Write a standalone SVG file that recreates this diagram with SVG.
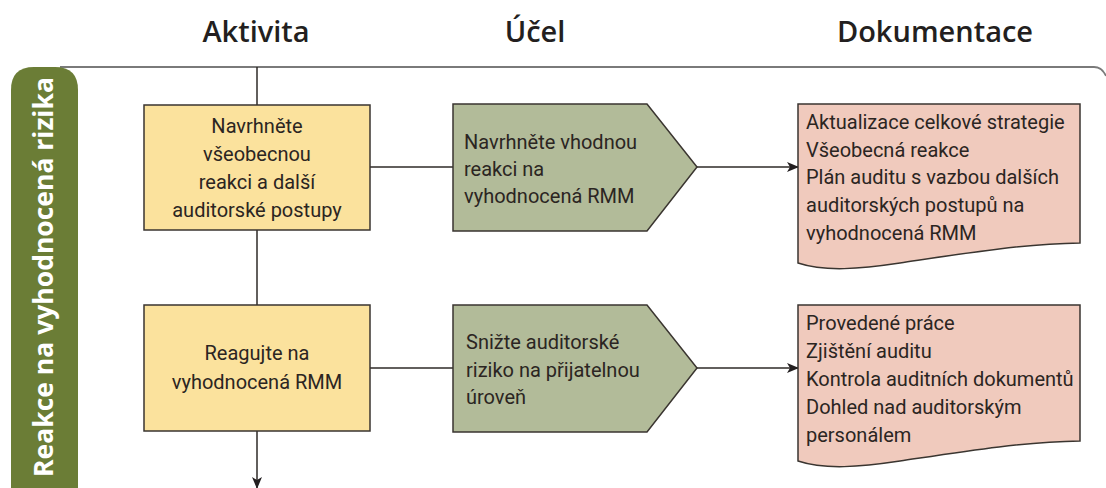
<svg xmlns="http://www.w3.org/2000/svg" width="1106" height="488" viewBox="0 0 1106 488">
<defs>
<style>
.hdr{font-family:"Open Sans","Noto Sans",sans-serif;font-size:29px;font-weight:600;fill:#231f20;text-anchor:middle}
.t{font-family:Roboto,"Open Sans",sans-serif;font-size:20px;fill:#2b2522}
.c{text-anchor:middle}
.box{fill:#fbe29d;stroke:#3a3530;stroke-width:1.5}
.pent{fill:#b2bb99;stroke:#3a3530;stroke-width:1.5}
.doc{fill:#f0cabd;stroke:#3a3530;stroke-width:1.5}
.ln{fill:none;stroke:#2e2a27;stroke-width:1.5}
</style>
<marker id="ah" viewBox="0 0 12 10" refX="11" refY="5" markerWidth="12" markerHeight="10" markerUnits="userSpaceOnUse" orient="auto">
<path d="M0,0 L12,5 L0,10 L3,5 Z" fill="#231f20"/>
</marker>
</defs>
<rect width="1106" height="488" fill="#ffffff"/>
<g id="headers">
<text class="hdr" x="256" y="42">Aktivita</text>
<text class="hdr" x="535" y="42">Účel</text>
<text class="hdr" x="935" y="42">Dokumentace</text>
</g>
<g id="frame">
<path d="M60,67 H1094 Q1102,67 1106,76" fill="none" stroke="#7a7a7a" stroke-width="1.8"/>
</g>
<g id="lane">
<path d="M11,488 V90 Q11,67 34,67 H55 Q78,67 78,90 V488 Z" fill="#6b7d36"/>
<text transform="translate(53,277) rotate(-90)" text-anchor="middle" font-family="'Open Sans','Noto Sans',sans-serif" font-size="26.5" font-weight="700" fill="#ffffff">Reakce na vyhodnocená rizika</text>
</g>
<g id="connectors">
<line class="ln" x1="257" y1="67" x2="257" y2="105"/>
<line class="ln" x1="257" y1="230" x2="257" y2="305"/>
<line class="ln" x1="257" y1="431" x2="257" y2="488" marker-end="url(#ah)"/>
<line class="ln" x1="370" y1="167" x2="453" y2="167"/>
<line class="ln" x1="697" y1="167" x2="798" y2="167" marker-end="url(#ah)"/>
<line class="ln" x1="370" y1="368" x2="453" y2="368"/>
<line class="ln" x1="697" y1="368" x2="798" y2="368" marker-end="url(#ah)"/>
</g>
<g id="activity1">
<rect class="box" x="144" y="105" width="226" height="125"/>
<text class="t c" x="257" y="133">Navrhněte</text>
<text class="t c" x="257" y="161">všeobecnou</text>
<text class="t c" x="257" y="189">reakci a další</text>
<text class="t c" x="257" y="217">auditorské postupy</text>
</g>
<g id="activity2">
<rect class="box" x="144" y="305" width="226" height="126"/>
<text class="t c" x="257" y="360">Reagujte na</text>
<text class="t c" x="257" y="389">vyhodnocená RMM</text>
</g>
<g id="purpose1">
<path class="pent" d="M453,104 H647 L697,167 L647,231 H453 Z"/>
<text class="t" x="464" y="149">Navrhněte vhodnou</text>
<text class="t" x="464" y="176">reakci na</text>
<text class="t" x="464" y="203">vyhodnocená RMM</text>
</g>
<g id="purpose2">
<path class="pent" d="M453,305 H647 L697,368 L647,432 H453 Z"/>
<text class="t" x="466" y="349">Snižte auditorské</text>
<text class="t" x="466" y="377">riziko na přijatelnou</text>
<text class="t" x="466" y="404">úroveň</text>
</g>
<g id="doc1">
<path class="doc" d="M798,104 H1080 V243 C1020,244 960,254 900,263 C860,269 825,272 798,263 Z"/>
<text class="t" x="806" y="129">Aktualizace celkové strategie</text>
<text class="t" x="806" y="157">Všeobecná reakce</text>
<text class="t" x="806" y="184">Plán auditu s vazbou dalších</text>
<text class="t" x="806" y="212">auditorských postupů na</text>
<text class="t" x="806" y="240">vyhodnocená RMM</text>
</g>
<g id="doc2">
<path class="doc" d="M798,305 H1080 V441 C1020,442 960,452 900,461 C860,467 825,470 798,461 Z"/>
<text class="t" x="806" y="330">Provedené práce</text>
<text class="t" x="806" y="358">Zjištění auditu</text>
<text class="t" x="806" y="386">Kontrola auditních dokumentů</text>
<text class="t" x="806" y="414">Dohled nad auditorským</text>
<text class="t" x="806" y="442">personálem</text>
</g>
</svg>
